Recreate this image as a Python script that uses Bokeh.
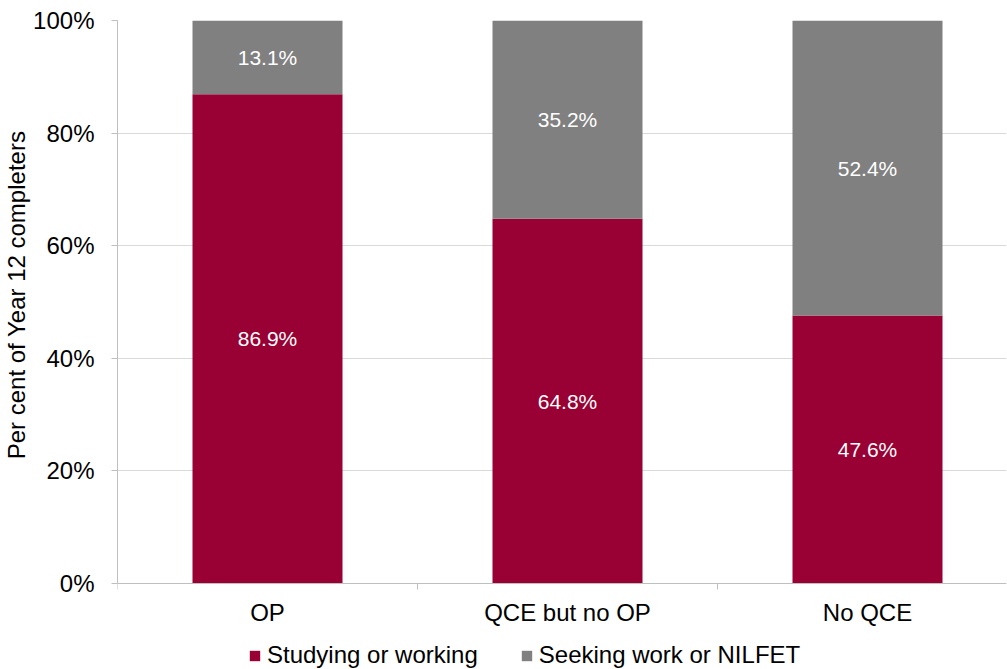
from bokeh.plotting import figure
from bokeh.models import (ColumnDataSource, FixedTicker, Legend, LegendItem, Range1d,
                          LabelSet, LinearAxis)
from bokeh.core.properties import value
from bokeh.embed import file_html
from bokeh.resources import INLINE

categories = ["OP", "QCE but no OP", "No QCE"]
studying = [86.9, 64.8, 47.6]
seeking = [13.1, 35.2, 52.4]
y_ticks = [0, 20, 40, 60, 80, 100]
y_tick_labels = ["0%", "20%", "40%", "60%", "80%", "100%"]
y_title = "Per cent of Year 12 completers"

RED = "#990033"
GREY = "#808080"
FONT = "Liberation Sans"
BIG = "24px"
SMALL = "21px"

xs = [i + 0.5 for i in range(len(categories))]
src = ColumnDataSource(dict(
    x=xs,
    study=studying,
    seek=seeking,
    top_all=[a + b for a, b in zip(studying, seeking)],
    study_mid=[a / 2 for a in studying],
    seek_mid=[a + b / 2 for a, b in zip(studying, seeking)],
    study_lbl=[f"{v:.1f}%" for v in studying],
    seek_lbl=[f"{v:.1f}%" for v in seeking],
))

# frame runs from the top of the plot to the bottom of the page so the legend fits inside it
PX_PER_UNIT = 563 / 100
p = figure(width=1007, height=669, output_backend="svg", toolbar_location=None,
           x_range=Range1d(0, 889 / 300), y_range=Range1d(-86 / PX_PER_UNIT, 100),
           x_axis_location=None,
           min_border_left=117, min_border_right=1, min_border_top=20, min_border_bottom=0)
p.outline_line_color = None
p.background_fill_color = "white"

r1 = p.vbar(x="x", width=0.5, bottom=0, top="study", source=src, fill_color=RED, line_color=None)
r2 = p.vbar(x="x", width=0.5, bottom="study", top="top_all", source=src, fill_color=GREY, line_color=None)

for col, lbl in (("study_mid", "study_lbl"), ("seek_mid", "seek_lbl")):
    p.add_layout(LabelSet(x="x", y=col, text=lbl, source=src, text_color="white",
                          text_font=value(FONT), text_font_size=SMALL,
                          text_align="center", text_baseline="middle"))

# y axis
p.yaxis.bounds = (0, 100)
p.yaxis.ticker = FixedTicker(ticks=y_ticks)
p.yaxis.major_label_overrides = {t: l for t, l in zip(y_ticks, y_tick_labels)}
p.yaxis.major_label_text_font = FONT
p.yaxis.major_label_text_font_size = BIG
p.yaxis.major_label_text_color = "black"
p.yaxis.major_label_standoff = 17
p.yaxis.axis_line_color = "#bfbfbf"
p.yaxis.major_tick_line_color = "#bfbfbf"
p.yaxis.major_tick_out = 6
p.yaxis.major_tick_in = 0
p.yaxis.minor_tick_line_color = None
# leading no-break spaces centre the visible title on the 0-100% span rather than the whole frame
p.yaxis.axis_label = "\u00a0" * 15 + y_title
p.yaxis.axis_label_text_font = FONT
p.yaxis.axis_label_text_font_size = BIG
p.yaxis.axis_label_text_font_style = "normal"
p.yaxis.axis_label_text_color = "black"
p.yaxis.axis_label_standoff = 0

# x axis: pinned at y = 0, labels pushed below its line
xaxis = LinearAxis(fixed_location=0,
                   ticker=FixedTicker(ticks=xs, minor_ticks=[0, 1, 2, 3]),
                   major_label_overrides={x: c for x, c in zip(xs, categories)},
                   major_label_text_font=FONT, major_label_text_font_size=BIG,
                   major_label_text_color="black",
                   major_label_standoff=-42,
                   axis_line_color="#bfbfbf",
                   major_tick_line_color=None, major_tick_out=0, major_tick_in=0,
                   minor_tick_line_color="#bfbfbf", minor_tick_out=0, minor_tick_in=6)
p.add_layout(xaxis, "above")

p.xgrid.grid_line_color = None
p.ygrid.grid_line_color = "#d9d9d9"
p.ygrid.ticker = FixedTicker(ticks=y_ticks)

legend = Legend(items=[LegendItem(label="Studying or working", renderers=[r1]),
                       LegendItem(label="Seeking work or NILFET", renderers=[r2])],
                orientation="horizontal", location=(131, 0),
                label_text_font=FONT, label_text_font_size=BIG, label_text_color="black",
                glyph_width=13, glyph_height=13, label_standoff=6, spacing=42,
                border_line_color=None, background_fill_alpha=0, padding=0, margin=0)
p.add_layout(legend, "center")

open("out.html", "w").write(file_html(p, INLINE))
